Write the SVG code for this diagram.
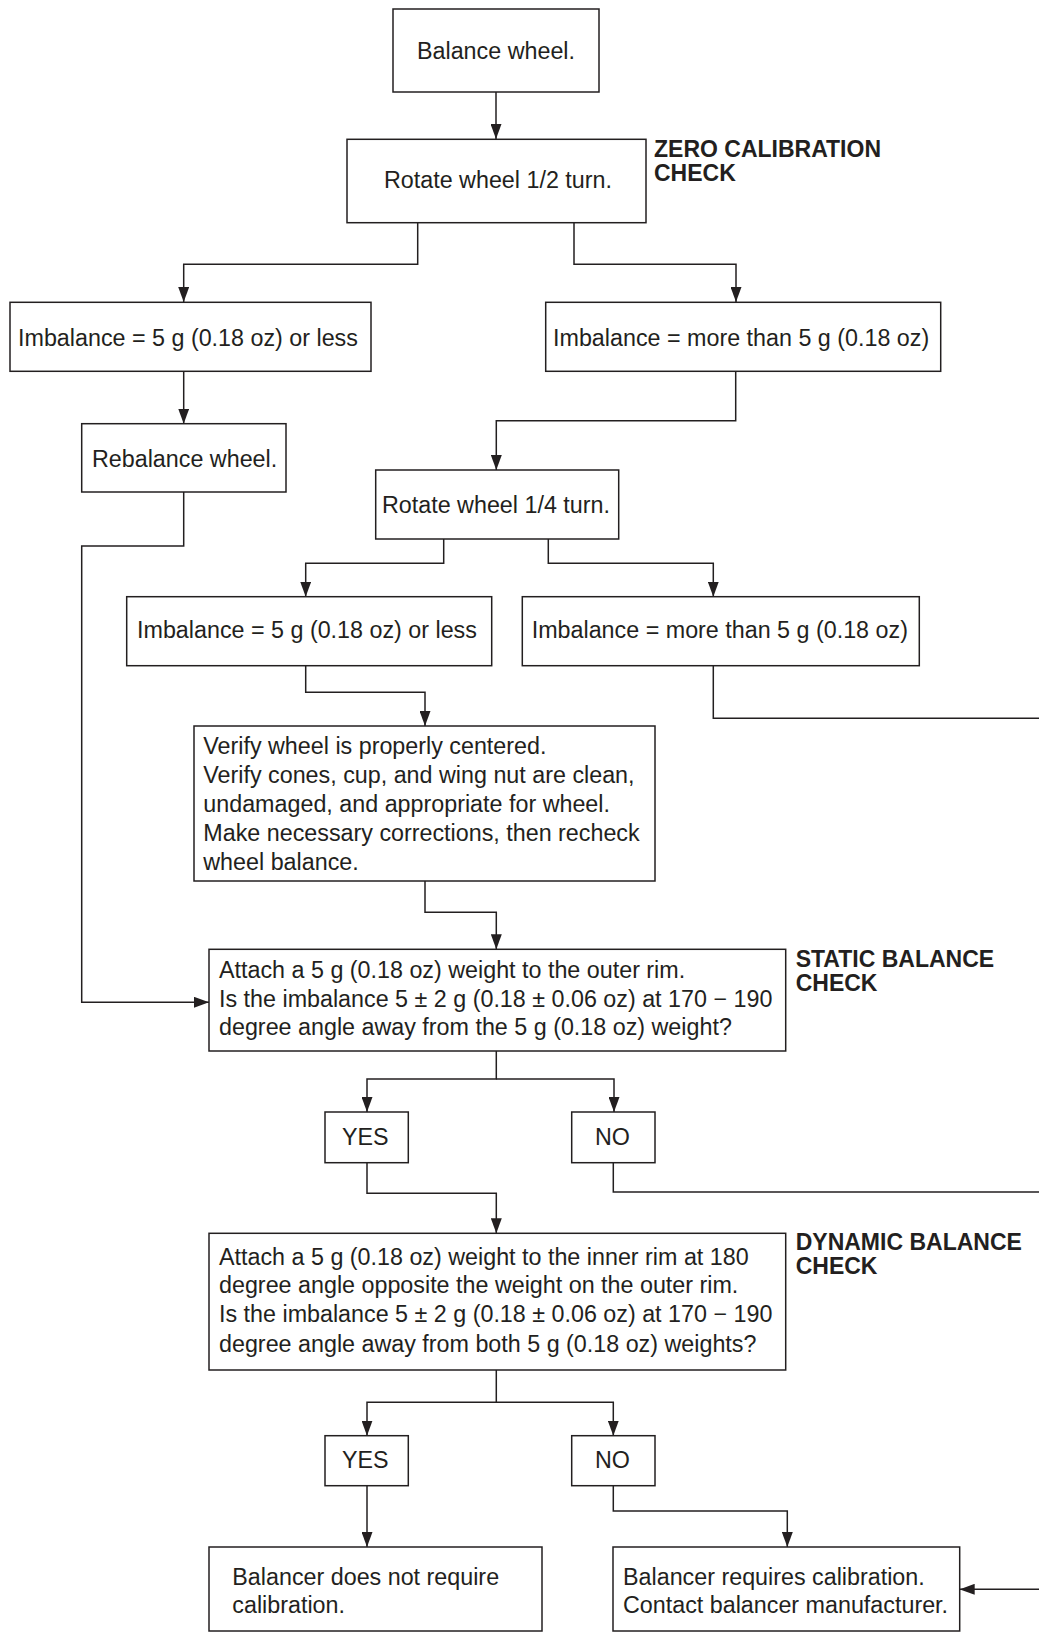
<svg xmlns="http://www.w3.org/2000/svg" width="1039" height="1632" viewBox="0 0 1039 1632">
<style>
.box{fill:#fff;stroke:#231f20;stroke-width:1.5}
.t{font-family:"Liberation Sans",Arial,sans-serif;font-size:23.3px;fill:#231f20}
.b{font-family:"Liberation Sans",Arial,sans-serif;font-size:23px;font-weight:bold;fill:#231f20}
.c{fill:none;stroke:#231f20;stroke-width:1.5}
</style>
<defs>
<marker id="ah" viewBox="0 0 15 11" refX="15" refY="5.5" markerWidth="15" markerHeight="11" markerUnits="userSpaceOnUse" orient="auto">
<path d="M0,0 L15,5.5 L0,11 Z" fill="#231f20"/>
</marker>
</defs>
<rect width="1039" height="1632" fill="#fff"/>
<g id="connectors">
<path class="c" d="M496,92 V139" marker-end="url(#ah)"/>
<path class="c" d="M417.7,223 V264.3 H183.7 V302" marker-end="url(#ah)"/>
<path class="c" d="M574,223 V264.3 H736 V302" marker-end="url(#ah)"/>
<path class="c" d="M183.7,371.3 V423.7" marker-end="url(#ah)"/>
<path class="c" d="M735.7,371.3 V420.7 H496.3 V470" marker-end="url(#ah)"/>
<path class="c" d="M443.7,539 V563.3 H305.7 V596.7" marker-end="url(#ah)"/>
<path class="c" d="M548.3,539 V563.3 H713.3 V596.7" marker-end="url(#ah)"/>
<path class="c" d="M713.3,665.7 V718.3 H1040"/>
<path class="c" d="M305.7,665.7 V692.3 H425 V726" marker-end="url(#ah)"/>
<path class="c" d="M425,881 V912.3 H496.3 V949.3" marker-end="url(#ah)"/>
<path class="c" d="M183.7,492 V546 H81.7 V1002.3 H209" marker-end="url(#ah)"/>
<path class="c" d="M496.3,1051 V1079 H367 V1112" marker-end="url(#ah)"/>
<path class="c" d="M496.3,1079 H614 V1112" marker-end="url(#ah)"/>
<path class="c" d="M367,1162.7 V1193.3 H496.3 V1233.3" marker-end="url(#ah)"/>
<path class="c" d="M613.3,1162.7 V1192 H1040"/>
<path class="c" d="M496.3,1370 V1402.3 H367 V1435.7" marker-end="url(#ah)"/>
<path class="c" d="M496.3,1402.3 H613.3 V1435.7" marker-end="url(#ah)"/>
<path class="c" d="M367,1485.7 V1547" marker-end="url(#ah)"/>
<path class="c" d="M613.3,1485.7 V1511 H787.3 V1547" marker-end="url(#ah)"/>
<path class="c" d="M1040,1589.3 H959.7" marker-end="url(#ah)"/>
</g>
<g id="n-balance">
<rect class="box" x="393" y="9" width="206" height="83"/>
<text class="t" x="496" y="59.3" text-anchor="middle">Balance wheel.</text>
</g>
<g id="n-rotate-half">
<rect class="box" x="347" y="139.3" width="299" height="83.4"/>
<text class="t" x="384" y="188">Rotate wheel 1/2 turn.</text>
</g>
<g id="lbl-zero">
<text class="b" x="654" y="157">ZERO CALIBRATION</text>
<text class="b" x="654" y="181">CHECK</text>
</g>
<g id="n-imb1-less">
<rect class="box" x="10" y="302.3" width="361" height="69"/>
<text class="t" x="18" y="345.7">Imbalance = 5 g (0.18 oz) or less</text>
</g>
<g id="n-imb1-more">
<rect class="box" x="545.7" y="302.3" width="395" height="69"/>
<text class="t" x="553" y="345.7">Imbalance = more than 5 g (0.18 oz)</text>
</g>
<g id="n-rebalance">
<rect class="box" x="81.7" y="423.7" width="204.3" height="68.3"/>
<text class="t" x="92" y="466.7">Rebalance wheel.</text>
</g>
<g id="n-rotate-quarter">
<rect class="box" x="375.7" y="470" width="243" height="69"/>
<text class="t" x="382" y="512.7">Rotate wheel 1/4 turn.</text>
</g>
<g id="n-imb2-less">
<rect class="box" x="126.7" y="596.7" width="365" height="69"/>
<text class="t" x="137" y="638.3">Imbalance = 5 g (0.18 oz) or less</text>
</g>
<g id="n-imb2-more">
<rect class="box" x="522.3" y="596.7" width="397" height="69"/>
<text class="t" x="531.7" y="638.3">Imbalance = more than 5 g (0.18 oz)</text>
</g>
<g id="n-verify">
<rect class="box" x="194" y="726" width="461" height="155"/>
<text class="t" x="203.3" y="754">Verify wheel is properly centered.</text>
<text class="t" x="203.3" y="783.3">Verify cones, cup, and wing nut are clean,</text>
<text class="t" x="203.3" y="812.3">undamaged, and appropriate for wheel.</text>
<text class="t" x="203.3" y="841">Make necessary corrections, then recheck</text>
<text class="t" x="203.3" y="870">wheel balance.</text>
</g>
<g id="n-static">
<rect class="box" x="209" y="949.3" width="576.7" height="101.7"/>
<text class="t" x="219" y="978.3">Attach a 5 g (0.18 oz) weight to the outer rim.</text>
<text class="t" x="219" y="1006.7">Is the imbalance 5 ± 2 g (0.18 ± 0.06 oz) at 170 − 190</text>
<text class="t" x="219" y="1035">degree angle away from the 5 g (0.18 oz) weight?</text>
</g>
<g id="lbl-static">
<text class="b" x="795.7" y="966.5">STATIC BALANCE</text>
<text class="b" x="795.7" y="990.5">CHECK</text>
</g>
<g id="n-yes1">
<rect class="box" x="325" y="1112" width="83.3" height="50.7"/>
<text class="t" x="365.3" y="1145" text-anchor="middle">YES</text>
</g>
<g id="n-no1">
<rect class="box" x="571.7" y="1112" width="83.3" height="50.7"/>
<text class="t" x="612.5" y="1145" text-anchor="middle">NO</text>
</g>
<g id="n-dynamic">
<rect class="box" x="209" y="1233.3" width="576.7" height="136.7"/>
<text class="t" x="219" y="1265">Attach a 5 g (0.18 oz) weight to the inner rim at 180</text>
<text class="t" x="219" y="1293.3">degree angle opposite the weight on the outer rim.</text>
<text class="t" x="219" y="1322.3">Is the imbalance 5 ± 2 g (0.18 ± 0.06 oz) at 170 − 190</text>
<text class="t" x="219" y="1351.7">degree angle away from both 5 g (0.18 oz) weights?</text>
</g>
<g id="lbl-dynamic">
<text class="b" x="795.7" y="1250">DYNAMIC BALANCE</text>
<text class="b" x="795.7" y="1274.3">CHECK</text>
</g>
<g id="n-yes2">
<rect class="box" x="325" y="1435.7" width="83.3" height="50"/>
<text class="t" x="365.3" y="1467.7" text-anchor="middle">YES</text>
</g>
<g id="n-no2">
<rect class="box" x="571.7" y="1435.7" width="83.3" height="50"/>
<text class="t" x="612.5" y="1467.7" text-anchor="middle">NO</text>
</g>
<g id="n-no-cal">
<rect class="box" x="209" y="1547" width="333" height="84"/>
<text class="t" x="232.3" y="1585">Balancer does not require</text>
<text class="t" x="232.3" y="1612.7">calibration.</text>
</g>
<g id="n-cal">
<rect class="box" x="613" y="1547" width="346.7" height="84"/>
<text class="t" x="623" y="1585">Balancer requires calibration.</text>
<text class="t" x="623" y="1612.7">Contact balancer manufacturer.</text>
</g>
</svg>
